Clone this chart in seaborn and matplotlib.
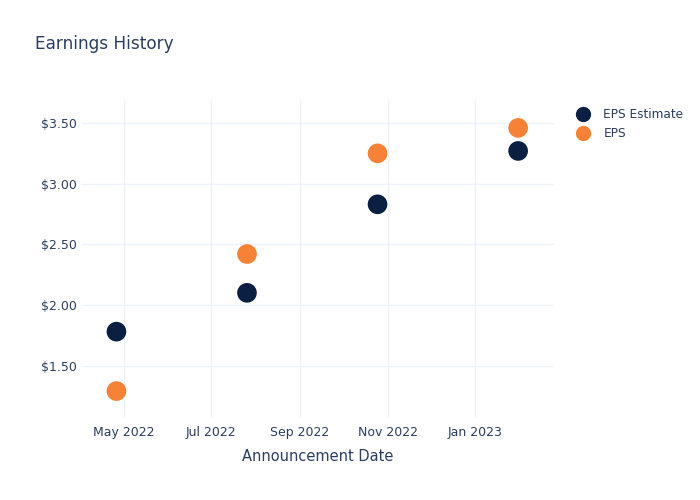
import matplotlib
matplotlib.use("Agg")
import matplotlib.pyplot as plt
import matplotlib.dates as mdates
from matplotlib.ticker import FuncFormatter
from matplotlib.lines import Line2D
import seaborn as sns
import pandas as pd

dates = ["2022-04-26", "2022-07-26", "2022-10-25", "2023-01-31"]
eps_estimate = [1.78, 2.10, 2.83, 3.27]
eps_actual = [1.29, 2.42, 3.25, 3.46]
series_names = ["EPS Estimate", "EPS"]
colors = ["#0b1f42", "#f58236"]

df = pd.DataFrame({
    "date": pd.to_datetime(dates * 2),
    "value": eps_estimate + eps_actual,
    "series": [series_names[0]] * 4 + [series_names[1]] * 4,
})

sns.set_theme(style="white")
plt.rcParams["font.family"] = ["DejaVu Sans"]
text_color = "#2a3f5f"
grid_color = "#eef2f8"

fig = plt.figure(figsize=(7, 5), dpi=100)
ax = fig.add_axes([82 / 700, 82 / 500, (554 - 82) / 700, (418 - 100) / 500])

sns.scatterplot(data=df, x="date", y="value", hue="series", hue_order=series_names,
                palette=colors, s=200, linewidth=0, ax=ax, legend=False, zorder=3)

ax.set_xlim(pd.Timestamp("2022-04-02"), pd.Timestamp("2023-02-25"))
ax.set_ylim(1.068, 3.69)
ax.xaxis.set_major_locator(mdates.MonthLocator(bymonth=[1, 3, 5, 7, 9, 11]))
ax.xaxis.set_major_formatter(mdates.DateFormatter("%b %Y"))
ax.set_yticks([1.5, 2.0, 2.5, 3.0, 3.5])
ax.yaxis.set_major_formatter(FuncFormatter(lambda v, p: f"${v:.2f}"))

ax.grid(True, color=grid_color, linewidth=1)
ax.set_axisbelow(True)
for sp in ax.spines.values():
    sp.set_visible(False)
ax.tick_params(axis="both", length=0, labelsize=9, colors=text_color)
ax.tick_params(axis="x", pad=6)
ax.tick_params(axis="y", pad=4)

ax.set_xlabel("Announcement Date", fontsize=10.5, color=text_color, labelpad=7)
ax.set_ylabel("")

fig.text(35 / 700, 1 - 44 / 500, "Earnings History", fontsize=12.2, color=text_color,
         ha="left", va="center")

handles = [Line2D([0], [0], marker="o", linestyle="", markersize=11,
                  markerfacecolor=c, markeredgewidth=0) for c in colors]
leg = fig.legend(handles, series_names, loc="upper left",
                 bbox_to_anchor=(566 / 700, 1 - 103 / 500), frameon=False,
                 fontsize=8.7, handletextpad=0.7, labelspacing=0.5,
                 borderaxespad=0)
for t in leg.get_texts():
    t.set_color(text_color)

fig.savefig("out.png", dpi=100)
